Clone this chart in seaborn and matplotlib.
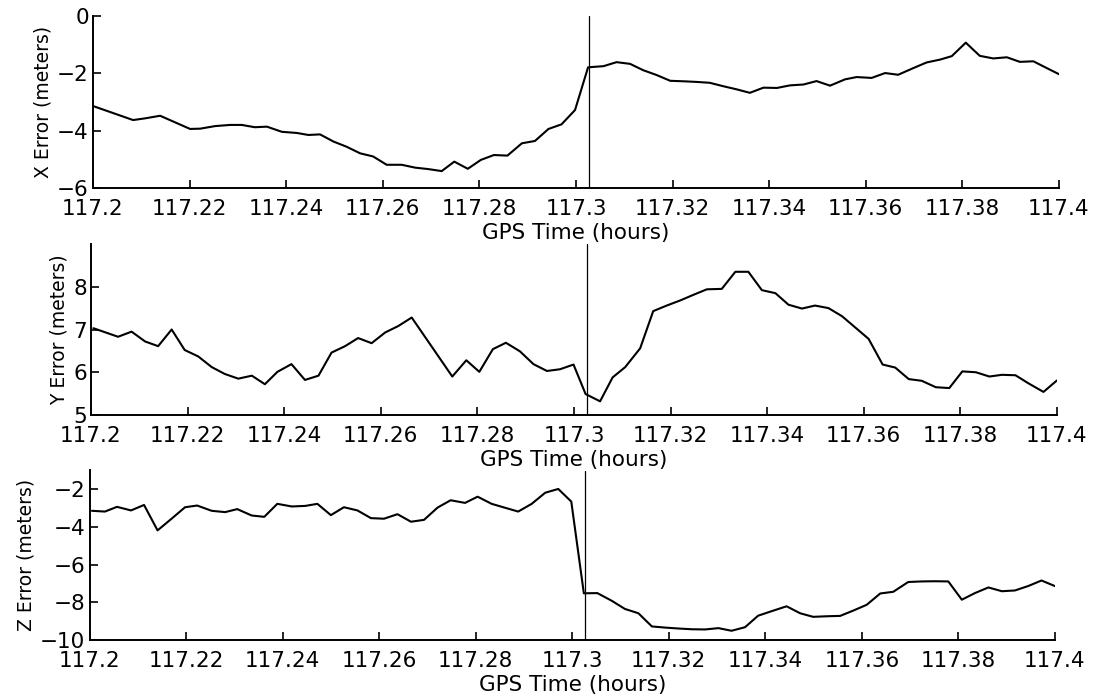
import matplotlib
matplotlib.use("Agg")
import matplotlib.pyplot as plt
import seaborn as sns
import pandas as pd

# ---------------- data ----------------
x_time = [117.2000, 117.2083, 117.2108, 117.2139, 117.2201, 117.2222, 117.2253, 117.2284, 117.2308, 117.2335,
          117.2360, 117.2391, 117.2422, 117.2446, 117.2470, 117.2498, 117.2525, 117.2553, 117.2580, 117.2608,
          117.2639, 117.2667, 117.2694, 117.2722, 117.2748, 117.2776, 117.2803, 117.2830, 117.2858, 117.2888,
          117.2915, 117.2943, 117.2970, 117.2998, 117.3025, 117.3057, 117.3084, 117.3112, 117.3139, 117.3167,
          117.3195, 117.3226, 117.3250, 117.3277, 117.3305, 117.3333, 117.3360, 117.3388, 117.3416, 117.3443,
          117.3471, 117.3498, 117.3526, 117.3557, 117.3581, 117.3612, 117.3640, 117.3667, 117.3698, 117.3726,
          117.3754, 117.3778, 117.3807, 117.3836, 117.3864, 117.3892, 117.3919, 117.3947, 117.3975, 117.4000]
x_error = [-3.14, -3.63, -3.57, -3.48, -3.94, -3.93, -3.84, -3.80, -3.80, -3.88,
           -3.86, -4.04, -4.08, -4.15, -4.13, -4.38, -4.56, -4.79, -4.90, -5.19,
           -5.19, -5.29, -5.34, -5.41, -5.08, -5.33, -5.02, -4.85, -4.87, -4.44,
           -4.36, -3.94, -3.78, -3.28, -1.79, -1.75, -1.61, -1.67, -1.89, -2.06,
           -2.26, -2.28, -2.30, -2.33, -2.45, -2.56, -2.68, -2.50, -2.51, -2.42,
           -2.39, -2.27, -2.43, -2.21, -2.13, -2.16, -1.99, -2.05, -1.82, -1.62,
           -1.52, -1.40, -0.93, -1.39, -1.48, -1.44, -1.60, -1.58, -1.82, -2.03]

y_time = [117.2005, 117.2056, 117.2084, 117.2112, 117.2139, 117.2167, 117.2194, 117.2222, 117.2250, 117.2277,
          117.2305, 117.2333, 117.2360, 117.2386, 117.2415, 117.2443, 117.2471, 117.2498, 117.2526, 117.2553,
          117.2581, 117.2609, 117.2636, 117.2664, 117.2748, 117.2777, 117.2804, 117.2832, 117.2859, 117.2888,
          117.2916, 117.2944, 117.2971, 117.2999, 117.3024, 117.3054, 117.3080, 117.3106, 117.3137, 117.3164,
          117.3192, 117.3220, 117.3247, 117.3275, 117.3306, 117.3334, 117.3361, 117.3389, 117.3417, 117.3444,
          117.3472, 117.3499, 117.3527, 117.3555, 117.3582, 117.3610, 117.3639, 117.3665, 117.3693, 117.3720,
          117.3749, 117.3777, 117.3804, 117.3832, 117.3860, 117.3886, 117.3914, 117.3941, 117.3972, 117.4000]
y_error = [7.03, 6.83, 6.95, 6.72, 6.61, 7.00, 6.52, 6.37, 6.12, 5.96,
           5.85, 5.92, 5.72, 6.01, 6.19, 5.82, 5.92, 6.46, 6.61, 6.80,
           6.68, 6.93, 7.08, 7.28, 5.90, 6.28, 6.01, 6.54, 6.69, 6.49,
           6.19, 6.03, 6.07, 6.18, 5.49, 5.32, 5.88, 6.12, 6.56, 7.43,
           7.56, 7.68, 7.81, 7.94, 7.95, 8.35, 8.35, 7.92, 7.85, 7.58,
           7.49, 7.56, 7.50, 7.31, 7.05, 6.78, 6.18, 6.11, 5.84, 5.80,
           5.65, 5.63, 6.02, 6.00, 5.90, 5.94, 5.93, 5.74, 5.54, 5.81]

z_time = [117.2005, 117.2032, 117.2057, 117.2086, 117.2113, 117.2141, 117.2170, 117.2198, 117.2223, 117.2253,
          117.2281, 117.2306, 117.2336, 117.2362, 117.2389, 117.2419, 117.2447, 117.2472, 117.2500, 117.2527,
          117.2555, 117.2583, 117.2610, 117.2638, 117.2666, 117.2693, 117.2721, 117.2748, 117.2778, 117.2804,
          117.2833, 117.2861, 117.2888, 117.2916, 117.2944, 117.2971, 117.2998, 117.3024, 117.3052, 117.3082,
          117.3109, 117.3137, 117.3165, 117.3192, 117.3220, 117.3248, 117.3275, 117.3303, 117.3330, 117.3358,
          117.3385, 117.3413, 117.3444, 117.3472, 117.3499, 117.3527, 117.3555, 117.3582, 117.3610, 117.3638,
          117.3665, 117.3696, 117.3724, 117.3751, 117.3779, 117.3807, 117.3834, 117.3862, 117.3890, 117.3917,
          117.3945, 117.3972, 117.4000]
z_error = [-3.14, -3.18, -2.93, -3.12, -2.83, -4.18, -3.56, -2.95, -2.86, -3.14,
           -3.21, -3.05, -3.39, -3.46, -2.77, -2.91, -2.88, -2.77, -3.37, -2.95,
           -3.12, -3.53, -3.56, -3.32, -3.72, -3.62, -2.97, -2.58, -2.72, -2.39,
           -2.77, -2.98, -3.18, -2.77, -2.18, -1.98, -2.65, -7.52, -7.51, -7.92,
           -8.35, -8.58, -9.28, -9.34, -9.39, -9.43, -9.44, -9.37, -9.51, -9.32,
           -8.71, -8.47, -8.21, -8.58, -8.77, -8.74, -8.72, -8.44, -8.13, -7.53,
           -7.44, -6.92, -6.89, -6.88, -6.89, -7.86, -7.51, -7.21, -7.41, -7.37,
           -7.13, -6.84, -7.14]

event_time = 117.3026

x_ticks = [117.2, 117.22, 117.24, 117.26, 117.28, 117.3, 117.32, 117.34, 117.36, 117.38, 117.4]
x_tick_labels = ["117.2", "117.22", "117.24", "117.26", "117.28", "117.3",
                 "117.32", "117.34", "117.36", "117.38", "117.4"]

panel_labels = ["X Error (meters)", "Y Error (meters)", "Z Error (meters)"]
panel_ylims = [(-6, 0), (5, 9), (-10, -1)]
panel_yticks = [[-6, -4, -2, 0], [5, 6, 7, 8], [-10, -8, -6, -4, -2]]
x_label = "GPS Time (hours)"

# ---------------- figure ----------------
sns.set_theme(style="ticks")
plt.rcParams["font.family"] = ["DejaVu Sans"]

fig = plt.figure(figsize=(10.94, 7.0), dpi=100)
fig.patch.set_facecolor("white")

W, H = 1094.0, 700.0
# (left, top, right, bottom) in pixels
boxes = [(93, 16, 1059, 188), (91, 244, 1057, 415), (89.5, 470.5, 1055, 640)]

series = [(x_time, x_error), (y_time, y_error), (z_time, z_error)]

for i, ((l, t, r, b), (tt, ee)) in enumerate(zip(boxes, series)):
    ax = fig.add_axes([l / W, 1 - b / H, (r - l) / W, (b - t) / H])
    ax.set_facecolor("white")
    df = pd.DataFrame({"time": tt, "err": ee})
    sns.lineplot(data=df, x="time", y="err", ax=ax, color="black",
                 linewidth=1.5, estimator=None, sort=False)
    ax.axvline(event_time, color="black", linewidth=0.9)
    ax.set_xlim(117.2, 117.4)
    ax.set_ylim(*panel_ylims[i])
    ax.set_yticks(panel_yticks[i])
    ax.set_xticks(x_ticks, x_tick_labels)
    for s in ["top", "right"]:
        ax.spines[s].set_visible(False)
    for s in ["left", "bottom"]:
        ax.spines[s].set_linewidth(1.4)
        ax.spines[s].set_color("black")
    ax.tick_params(axis="both", direction="in", length=6, width=1.2,
                   colors="black", labelsize=15.5)
    ax.tick_params(axis="x", pad=8)
    ax.tick_params(axis="y", pad=3)
    ax.set_xlabel(x_label, fontsize=15.5, labelpad=2.5, color="black")
    ax.set_ylabel(panel_labels[i], fontsize=13.5, labelpad=3, color="black")
    ax.grid(False)

fig.savefig("out.png", dpi=100, facecolor="white")
